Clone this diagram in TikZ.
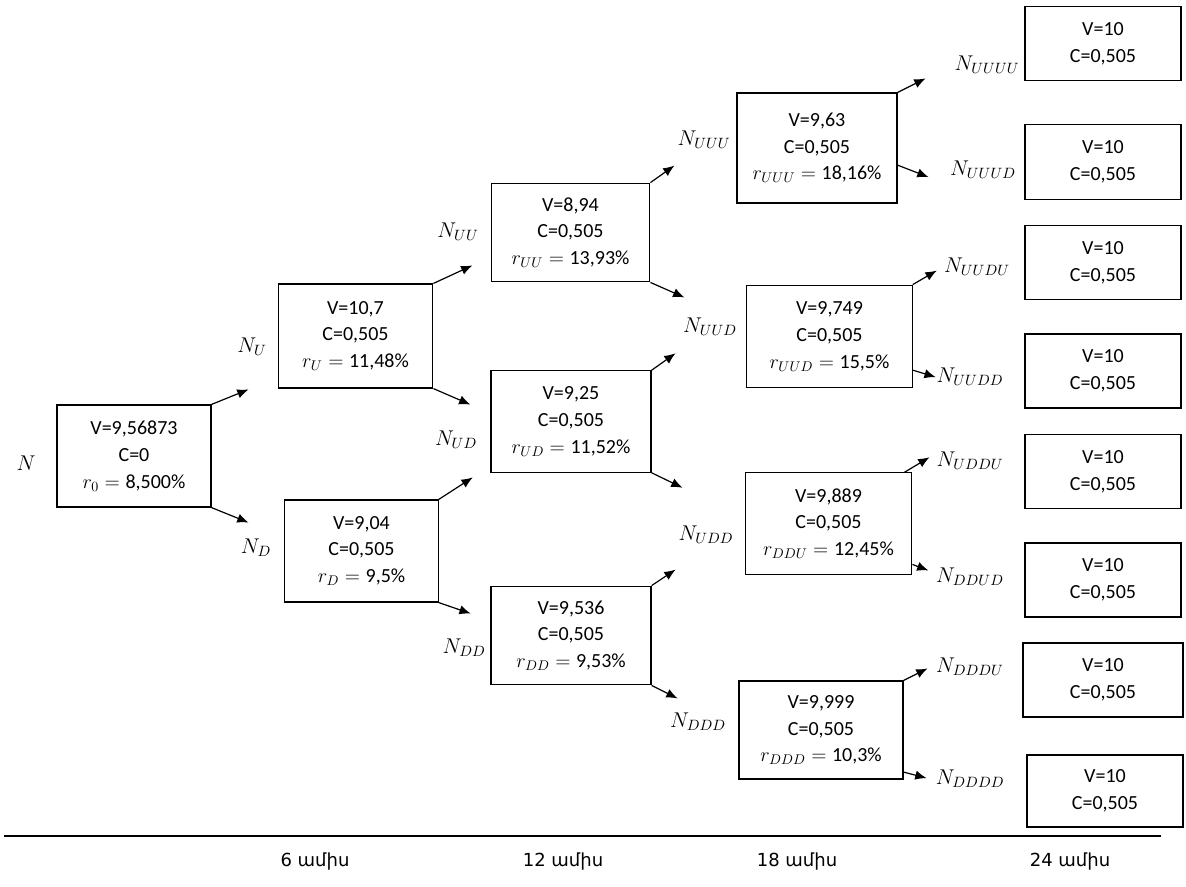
\documentclass[tikz,border=0pt]{standalone}
\usepackage{fix-cm}
\usepackage{fontspec}
\setmainfont{Carlito}
\newfontfamily\armfont{DejaVu Sans}
\usetikzlibrary{arrows.meta}
\begin{document}
\begin{tikzpicture}[x=0.75pt,y=-0.75pt,
		box/.style 2 args={draw,line width=0.9pt,align=center,inner sep=0pt,
			minimum width=#1pt,minimum height=#2pt,font=\fontsize{15}{20}\selectfont},
		lab/.style={inner sep=0pt,font=\fontsize{16}{18}\selectfont},
		month/.style={inner sep=0pt,font=\armfont\fontsize{13.5}{15}\selectfont},
		arr/.style={line width=0.9pt,-{Latex[length=8.5pt,width=7pt]}}]
			\useasboundingbox (0,0) rectangle (1186,886);
			% boxes of the tree
			\node[box={115.5}{76.5}] (b0) at (134,456) {V=9,56873\\C=0\\$r_{0}={}$8,500\%};
			\node[box={116}{78}] (bU) at (355.5,336) {V=10,7\\C=0,505\\$r_{U}={}$11,48\%};
			\node[box={115}{76.5}] (bD) at (361.5,551) {V=9,04\\C=0,505\\$r_{D}={}$9,5\%};
			\node[box={119}{74}] (bUU) at (570.5,232.5) {V=8,94\\C=0,505\\$r_{UU}={}$13,93\%};
			\node[box={120}{76}] (bUD) at (571,421.5) {V=9,25\\C=0,505\\$r_{UD}={}$11,52\%};
			\node[box={120}{74}] (bDD) at (571,635.5) {V=9,536\\C=0,505\\$r_{DD}={}$9,53\%};
			\node[box={120}{82.5}] (bUUU) at (817,148) {V=9,63\\C=0,505\\$r_{UUU}={}$18,16\%};
			\node[box={124}{77}] (bUUD) at (829.5,336.5) {V=9,749\\C=0,505\\$r_{UUD}={}$15,5\%};
			\node[box={125}{76}] (bUDD) at (828.5,523.5) {V=9,889\\C=0,505\\$r_{DDU}={}$12,45\%};
			\node[box={123}{73.5}] (bDDD) at (821,730) {V=9,999\\C=0,505\\$r_{DDD}={}$10,3\%};
			% last column
			\node[box={117}{56}] (fUUUU) at (1103,43.5) {V=10\\C=0,505};
			\node[box={117}{56}] (fUUUD) at (1103,162) {V=10\\C=0,505};
			\node[box={117}{55}] (fUUDU) at (1103,262.5) {V=10\\C=0,505};
			\node[box={117}{55.5}] (fUUDD) at (1103,371) {V=10\\C=0,505};
			\node[box={117}{55}] (fUDDU) at (1103,471.5) {V=10\\C=0,505};
			\node[box={117}{55.5}] (fDDUD) at (1103,580) {V=10\\C=0,505};
			\node[box={120}{55.5}] (fDDDU) at (1103,680) {V=10\\C=0,505};
			\node[box={117}{54}] (fDDDD) at (1105,791) {V=10\\C=0,505};
			% labels
			\node[lab] (lN) at (26,463) {$N$};
			\node[lab] (lU) at (252,347) {$N_{U}$};
			\node[lab] (lD) at (256,548) {$N_{D}$};
			\node[lab] (lUU) at (458,232) {$N_{UU}$};
			\node[lab] (lUD) at (456,440) {$N_{UD}$};
			\node[lab] (lDD) at (464,648) {$N_{DD}$};
			\node[lab] (lUUU) at (704,140) {$N_{UUU}$};
			\node[lab] (lUUD) at (710,327) {$N_{UUD}$};
			\node[lab] (lUDD) at (706,535) {$N_{UDD}$};
			\node[lab] (lDDD) at (698,722) {$N_{DDD}$};
			\node[lab] (lUUUU) at (987,65) {$N_{UUUU}$};
			\node[lab] (lUUUD) at (983,170) {$N_{UUUD}$};
			\node[lab] (lUUDU) at (977,267) {$N_{UUDU}$};
			\node[lab] (lUUDD) at (970,377) {$N_{UUDD}$};
			\node[lab] (lUDDU) at (970,461) {$N_{UDDU}$};
			\node[lab] (lDDUD) at (970,577) {$N_{DDUD}$};
			\node[lab] (lDDDU) at (970,667) {$N_{DDDU}$};
			\node[lab] (lDDDD) at (970,779) {$N_{DDDD}$};
			% arrows
			\draw[arr] (b0.north east) -- ++(37,-15) coordinate (aU);
			\draw[arr] (b0.south east) -- ++(37,15) coordinate (aD);
			\draw[arr] (bU.north east) -- ++(39,-18) coordinate (aUU);
			\draw[arr] (bU.south east) -- ++(37,16) coordinate (aUD);
			\draw[arr] (bD.north east) -- ++(34,-22) coordinate (aDU);
			\draw[arr] (bD.south east) -- ++(32,11) coordinate (aDD);
			\draw[arr] (bUU.north east) -- ++(24,-17) coordinate (aUUU);
			\draw[arr] (bUU.south east) -- ++(34,15) coordinate (aUUD);
			\draw[arr] (bUD.north east) -- ++(24,-17) coordinate (aUDU);
			\draw[arr] (bUD.south east) -- ++(31,15) coordinate (aUDD);
			\draw[arr] (bDD.north east) -- ++(24,-16) coordinate (aDDU);
			\draw[arr] (bDD.south east) -- ++(26,13) coordinate (aDDD);
			\draw[arr] (bUUU.north east) -- ++(28,-14) coordinate (aUUUU);
			\draw[arr] (bUUU.-12) -- ++(31,12) coordinate (aUUUD);
			\draw[arr] (bUUD.north east) -- ++(24,-14) coordinate (aUUDU);
			\draw[arr] (bUUD.-22) -- ++(23,7) coordinate (aUUDD);
			\draw[arr] (bUDD.34) -- ++(25,-15) coordinate (aUDDU);
			\draw[arr] (bUDD.-26) -- ++(16,6) coordinate (aDDUD);
			\draw[arr] (bDDD.north east) -- ++(24,-12) coordinate (aDDDU);
			\draw[arr] (bDDD.-27) -- ++(23,6) coordinate (aDDDD);
			% time axis
			\coordinate (axL) at (4,836);
			\coordinate (axR) at (1161,836);
			\draw[line width=1pt] (axL) -- (axR);
			\node[month] (m6) at (315,862) {6 ամիս};
			\node[month] (m12) at (563,862) {12 ամիս};
			\node[month] (m18) at (797,862) {18 ամիս};
			\node[month] (m24) at (1070,862) {24 ամիս};
		\end{tikzpicture}
\end{document}
